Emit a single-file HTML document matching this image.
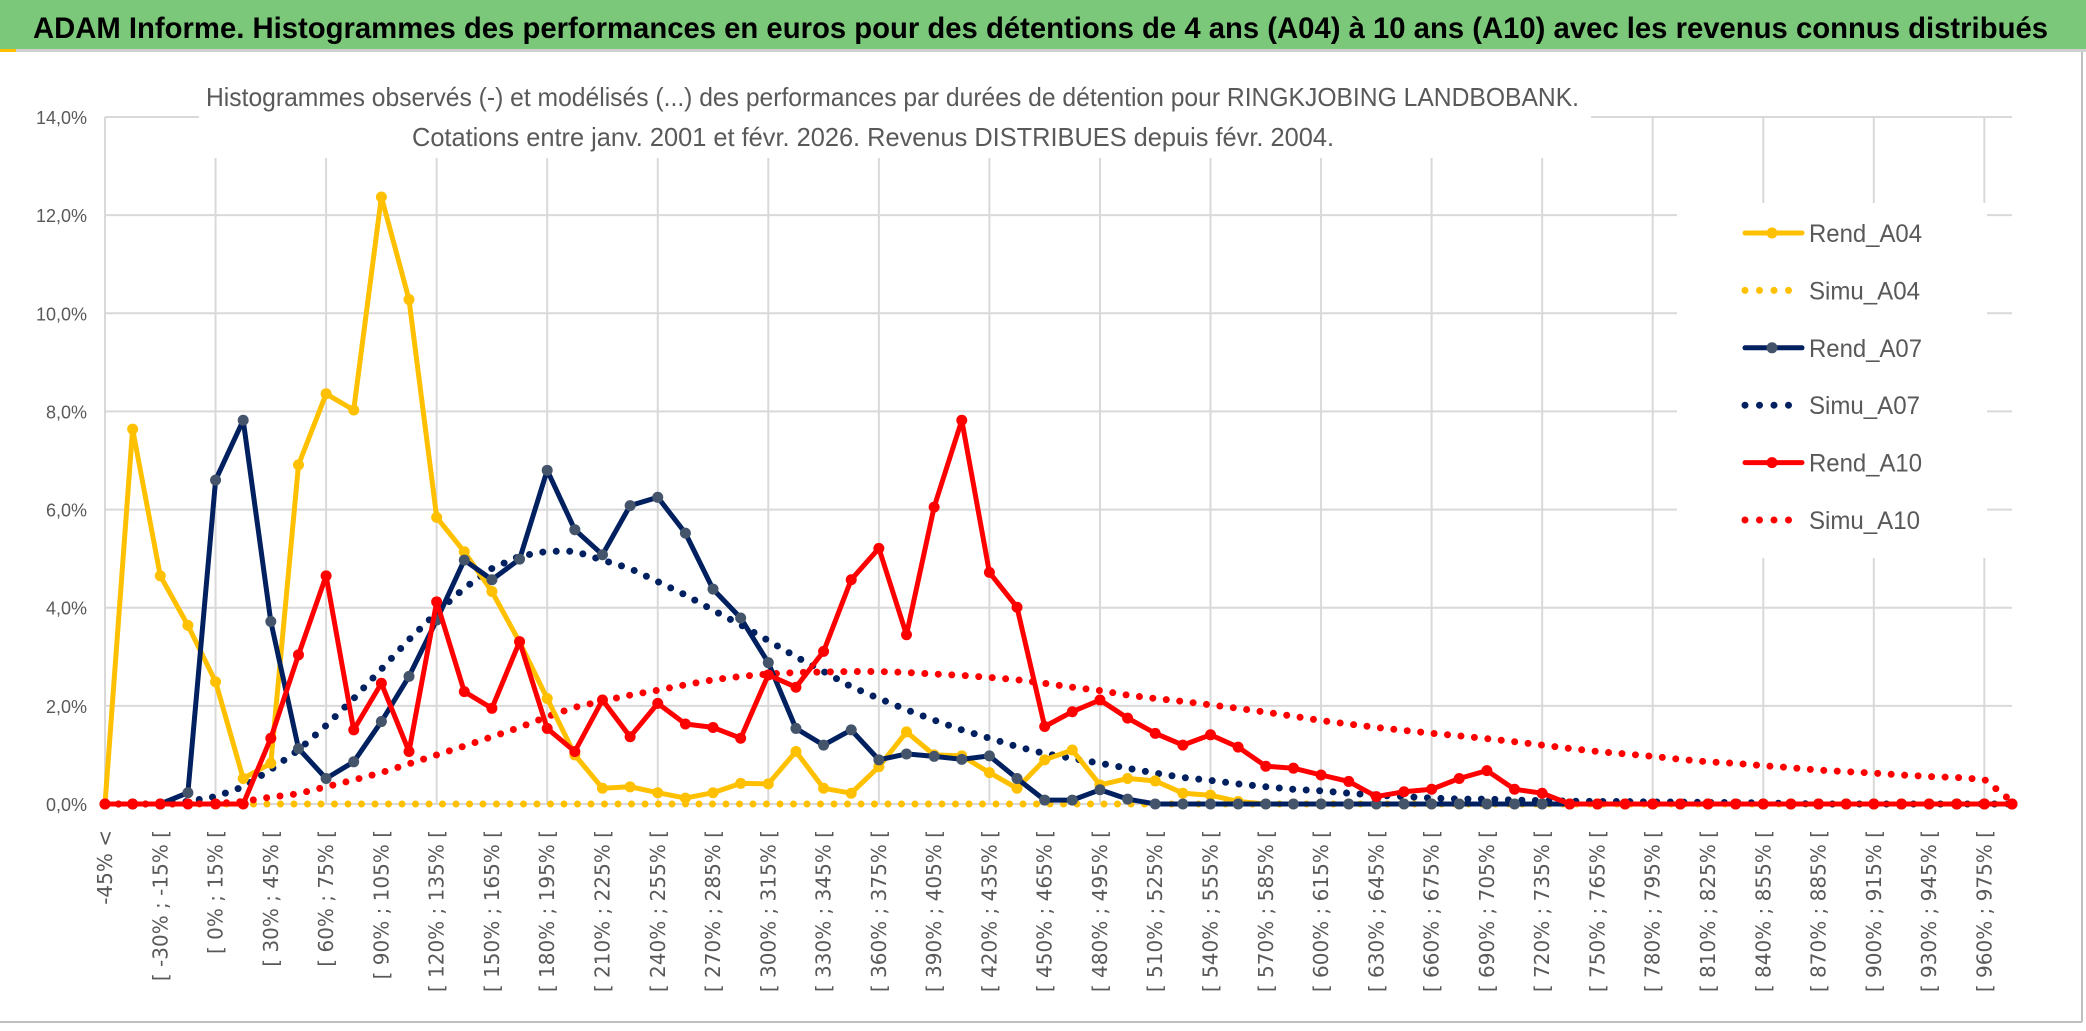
<!DOCTYPE html>
<html><head><meta charset="utf-8">
<style>
html,body{margin:0;padding:0;background:#fff;}
svg{display:block;}
</style></head>
<body>
<svg id="chart" width="2086" height="1031" viewBox="0 0 2086 1031" xmlns="http://www.w3.org/2000/svg">
  <rect x="0" y="0" width="2086" height="1031" fill="#ffffff"/>
  <rect x="0" y="0" width="2086" height="49" fill="#7cc87b"/>
  <rect x="0" y="49" width="2086" height="3" fill="#d0d0d0"/>
  <rect x="0" y="49" width="16" height="3" fill="#ffc000"/>
  <text x="33" y="38" font-family="'Liberation Sans', sans-serif" font-weight="bold" font-size="30" fill="#000" textLength="2015" lengthAdjust="spacingAndGlyphs">ADAM Informe. Histogrammes des performances en euros pour des détentions de 4 ans (A04) à 10 ans (A10) avec les revenus connus distribués</text>
  <line x1="2082" y1="52" x2="2082" y2="1022" stroke="#bfbfbf" stroke-width="2"/>
  <line x1="0" y1="1022" x2="2082" y2="1022" stroke="#bfbfbf" stroke-width="2"/>
  <g id="grid"></g>
  <rect x="199" y="58" width="1392" height="100" fill="#fff"/>
  <rect x="1677" y="203" width="310" height="355" fill="#fff"/>
  <text x="206" y="106" font-family="'Liberation Sans', sans-serif" font-size="26" fill="#595959" textLength="1373" lengthAdjust="spacingAndGlyphs">Histogrammes observés (-) et modélisés (...) des performances par durées de détention pour RINGKJOBING LANDBOBANK.</text>
  <text x="412" y="146" font-family="'Liberation Sans', sans-serif" font-size="26" fill="#595959" textLength="922" lengthAdjust="spacingAndGlyphs">Cotations entre janv. 2001 et févr. 2026. Revenus DISTRIBUES depuis févr. 2004.</text>
  <g id="yaxis"></g>
  <g id="xaxis"></g>
  <g id="series"></g>
  <g id="legend"></g>
</svg>
<script>
const yTicks = [0, 2, 4, 6, 8, 10, 12, 14];
const categoryCount = 70;
const xLabels = (function(){const a=["-45% <"];for(let k=2;k<=68;k+=2){const s=-45+15*(k-1);a.push("[ "+s+"% ; "+(s+15)+"% [");}return a;})();
const rendA04 = [0,7.64,4.65,3.64,2.49,0.52,0.83,6.91,8.36,8.03,12.37,10.28,5.84,5.14,4.33,3.3,2.15,1.0,0.32,0.35,0.23,0.12,0.23,0.42,0.41,1.07,0.32,0.22,0.76,1.47,1.0,0.98,0.64,0.32,0.9,1.1,0.39,0.52,0.47,0.22,0.18,0.05,0,0,0,0,0,0,0,0,0,0,0,0,0,0,0,0,0,0,0,0,0,0,0,0,0,0,0,0];
const simuA04 = [0,0,0,0,0,0,0,0,0,0,0,0,0,0,0,0,0,0,0,0,0,0,0,0,0,0,0,0,0,0,0,0,0,0,0,0,0,0,0,0,0,0,0,0,0,0,0,0,0,0,0,0,0,0,0,0,0,0,0,0,0,0,0,0,0,0,0,0,0,0];
const rendA07 = [0,0,0,0.23,6.6,7.82,3.72,1.13,0.52,0.86,1.68,2.6,3.75,4.97,4.57,4.99,6.8,5.59,5.08,6.08,6.25,5.52,4.38,3.79,2.88,1.54,1.2,1.51,0.9,1.02,0.97,0.91,0.98,0.52,0.08,0.08,0.29,0.1,0,0,0,0,0,0,0,0,0,0,0,0,0,0,0,0,0,0,0,0,0,0,0,0,0,0,0,0,0,0,0,0];
const simuA07 = [0,0,0,0.05,0.15,0.35,0.7,1.1,1.6,2.15,2.75,3.35,3.9,4.4,4.8,5.05,5.15,5.15,4.97,4.8,4.53,4.26,3.95,3.65,3.33,3.0,2.7,2.39,2.15,1.92,1.71,1.51,1.34,1.17,1.03,0.93,0.83,0.73,0.63,0.54,0.48,0.41,0.35,0.3,0.27,0.22,0.18,0.15,0.12,0.1,0.1,0.08,0.07,0.06,0.05,0.05,0.04,0.04,0.03,0.03,0.02,0.01,0,0,0,0,0,0,0,0];
const rendA10 = [0,0,0,0,0,0,1.34,3.04,4.65,1.51,2.46,1.07,4.12,2.29,1.95,3.31,1.54,1.07,2.12,1.37,2.05,1.63,1.56,1.34,2.63,2.38,3.11,4.57,5.21,3.45,6.05,7.82,4.72,4.01,1.58,1.88,2.12,1.75,1.44,1.2,1.41,1.16,0.77,0.73,0.59,0.46,0.15,0.25,0.3,0.52,0.68,0.3,0.22,0,0,0,0,0,0,0,0,0,0,0,0,0,0,0,0,0];
const simuA10 = [0,0,0,0,0.01,0.05,0.14,0.21,0.35,0.49,0.64,0.82,1.0,1.18,1.37,1.56,1.78,1.97,2.1,2.22,2.32,2.43,2.53,2.6,2.65,2.68,2.69,2.7,2.7,2.68,2.65,2.62,2.58,2.53,2.46,2.38,2.31,2.22,2.15,2.09,2.02,1.95,1.87,1.79,1.7,1.63,1.56,1.5,1.44,1.39,1.33,1.27,1.2,1.13,1.07,1.02,0.97,0.91,0.86,0.83,0.78,0.74,0.69,0.66,0.63,0.59,0.56,0.54,0.5,0.05];
const legendNames = ["Rend_A04","Simu_A04","Rend_A07","Simu_A07","Rend_A10","Simu_A10"];

const NS = "http://www.w3.org/2000/svg";
const X0 = 105, X1 = 2012, Y0 = 804, Y14 = 117;
function xPos(i){ return X0 + i * (X1 - X0) / (categoryCount - 1); }
function yPos(v){ return Y0 - v * (Y0 - Y14) / 14; }
function mk(tag, attrs, parent){ const e = document.createElementNS(NS, tag); for (const k in attrs) e.setAttribute(k, attrs[k]); parent.appendChild(e); return e; }

const grid = document.getElementById("grid");
yTicks.forEach(t => {
  const l = mk("line", {x1: X0, x2: X1, y1: yPos(t), y2: yPos(t), stroke: "#d9d9d9", "stroke-width": 2}, grid);
  
  
});
for (let i = 4; i < categoryCount; i += 4) {
  const l = mk("line", {x1: xPos(i), x2: xPos(i), y1: Y14, y2: Y0, stroke: "#d9d9d9", "stroke-width": 2}, grid);
  
  
}
const ax = mk("line", {x1: X0, x2: X0, y1: Y14, y2: Y0, stroke: "#d9d9d9", "stroke-width": 2}, grid);



const yaxis = document.getElementById("yaxis");
yTicks.forEach(t => {
  const tx = mk("text", {x: 87, y: yPos(t) + 7, "text-anchor": "end", "font-family": "'Liberation Sans', sans-serif", "font-size": 18, fill: "#595959"}, yaxis);
  tx.textContent = t.toFixed(1).replace(".", ",") + "%";
  
  
});

const xaxis = document.getElementById("xaxis");
xLabels.forEach((lab, j) => {
  const i = j === 0 ? 0 : j * 2;
  const x = xPos(i) + 7, y = 830;
  const tx = mk("text", {x: x, y: y, "text-anchor": "end", transform: "rotate(-90 " + x + " " + y + ")", "font-family": "'DejaVu Sans', sans-serif", "font-size": 20, fill: "#595959"}, xaxis);
  tx.textContent = lab;
  
  
});

const series = document.getElementById("series");
function pathOf(arr){ return arr.map((v, i) => (i ? "L" : "M") + xPos(i).toFixed(1) + " " + yPos(v).toFixed(1)).join(" "); }
function drawSimu(arr, color, name){
  const p = mk("path", {d: pathOf(arr), fill: "none", stroke: color, "stroke-width": 7, "stroke-linecap": "round", "stroke-dasharray": "0 13.5"}, series);
  
  
}
function drawRend(arr, color, mColor, name){
  const p = mk("path", {d: pathOf(arr), fill: "none", stroke: color, "stroke-width": 5, "stroke-linejoin": "round"}, series);
  
  
  arr.forEach((v, i) => {
    const c = mk("circle", {cx: xPos(i), cy: yPos(v), r: 5.5, fill: mColor}, series);
    
    
  });
}
drawSimu(simuA04, "#ffc000", "simu-a04-line");
drawSimu(simuA07, "#002060", "simu-a07-line");
drawSimu(simuA10, "#ff0000", "simu-a10-line");
drawRend(rendA04, "#ffc000", "#ffc000", "rend-a04");
drawRend(rendA07, "#002060", "#44546a", "rend-a07");
drawRend(rendA10, "#ff0000", "#ff0000", "rend-a10");

const legend = document.getElementById("legend");
const legColors = ["#ffc000", "#ffc000", "#002060", "#002060", "#ff0000", "#ff0000"];
const legMarker = ["#ffc000", null, "#44546a", null, "#ff0000", null];
legendNames.forEach((n, k) => {
  const y = 233 + k * 57.4;
  const g = mk("g", {}, legend);
  
  
  if (legMarker[k]) {
    mk("line", {x1: 1745, x2: 1802, y1: y, y2: y, stroke: legColors[k], "stroke-width": 5, "stroke-linecap": "round"}, g);
    mk("circle", {cx: 1772, cy: y, r: 5.5, fill: legMarker[k]}, g);
  } else {
    mk("line", {x1: 1745, x2: 1802, y1: y, y2: y, stroke: legColors[k], "stroke-width": 7, "stroke-linecap": "round", "stroke-dasharray": "0 14.5"}, g);
  }
  const tx = mk("text", {x: 1809, y: y + 9, "font-family": "'Liberation Sans', sans-serif", "font-size": 25, fill: "#595959", textLength: n.startsWith("Rend") ? 113 : 111, lengthAdjust: "spacingAndGlyphs"}, g);
  tx.textContent = n;
});
</script>
</body></html>
